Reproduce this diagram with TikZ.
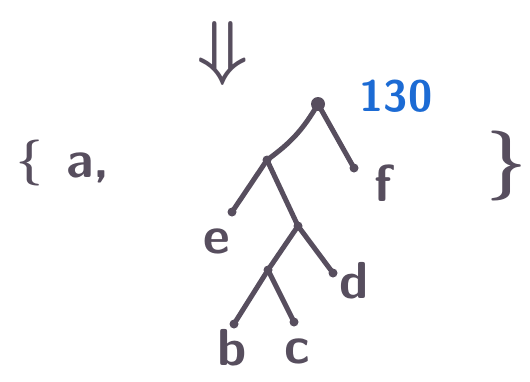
\documentclass[tikz,border=0pt]{standalone}
\usepackage{amsmath}
\usepackage{xcolor}
\usepackage{tikz}
\usetikzlibrary{positioning, calc}
\definecolor{ink}{HTML}{574E5E}
\definecolor{inkblue}{HTML}{1C6BD4}
\tikzset{
    dot/.style={circle, fill=ink, inner sep=0pt, minimum size=9pt},
    rootdot/.style={dot, minimum size=14pt},
    edge/.style={draw=ink, line width=5pt, line cap=round},
    letter/.style={text=ink, inner sep=0pt, font=\sffamily\bfseries\fontsize{52}{52}\selectfont},
    mark symbol/.style={text=ink, inner sep=0pt}
}

\begin{document}
\begin{tikzpicture}[x=1pt, y=-1pt]
    \useasboundingbox[fill=white] (0,0) rectangle (530,381);

    % Arrow and set braces
    \node (arrow) [mark symbol, scale=7.2] at (223,53) {$\boldsymbol{\Downarrow}$};
    \node (lbrace) [mark symbol, scale=4.6] at (30,163) {$\boldsymbol{\{}$};
    \node (itema) [letter] at (88,168) {a,};
    \node (rbrace) [mark symbol, scale=7] at (507,166) {$\boldsymbol{\}}$};

    % Tree nodes
    \node (root) [rootdot] at (318,104) {};
    \node (n1) [dot] at (267,160) {};
    \node (n2) [dot] at (298,226) {};
    \node (n3) [dot] at (268,270) {};

    % Leaves
    \node (lf) [dot] at (354,168) {};
    \node (le) [dot] at (232,212) {};
    \node (ld) [dot] at (333,273) {};
    \node (lb) [dot] at (234,324) {};
    \node (lc) [dot] at (294,322) {};

    % Edges
    \draw [edge] (root.center) to[bend left=12] (n1.center);
    \draw [edge] (root.center) -- (lf.center);
    \draw [edge] (n1.center) -- (le.center);
    \draw [edge] (n1.center) -- (n2.center);
    \draw [edge] (n2.center) -- (n3.center);
    \draw [edge] (n2.center) -- (ld.center);
    \draw [edge] (n3.center) -- (lb.center);
    \draw [edge] (n3.center) -- (lc.center);

    % Labels
    \node (cost) [letter, text=inkblue, font=\sffamily\bfseries\fontsize{44}{44}\selectfont] at (396,96) {130};
    \node (tf) [letter] at (383,183) {f};
    \node (te) [letter] at (217,241) {e};
    \node (td) [letter] at (354,281) {d};
    \node (tb) [letter] at (232,348) {b};
    \node (tc) [letter] at (297,351) {c};
\end{tikzpicture}
\end{document}
